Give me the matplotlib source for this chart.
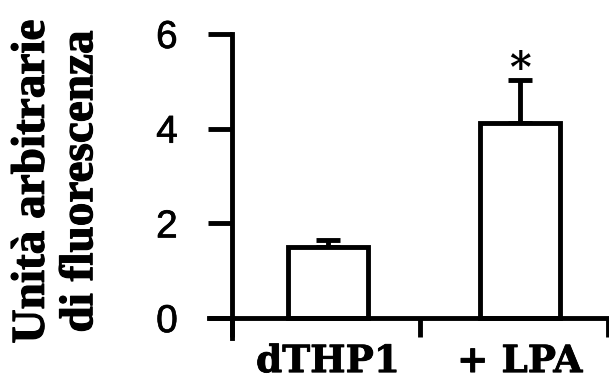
import matplotlib
matplotlib.use("Agg")
import matplotlib.pyplot as plt
import matplotlib.patheffects as pe
from matplotlib.ticker import FixedLocator, FixedFormatter

# Data
categories = ["dTHP1", "+ LPA"]
values = [1.50, 4.13]
errors_up = [0.14, 0.90]
significance = ["", "*"]
y_ticks = [0, 2, 4, 6]
ylabel = "Unità arbitrarie\ndi fluorescenza"

W, H = 609, 379
fig = plt.figure(figsize=(W / 100, H / 100), dpi=100)
fig.patch.set_facecolor("white")

ax = fig.add_axes([209 / W, (H - 338) / H, 400 / W, (338 - 34) / H])
ax.set_xlim(-0.122, 2.005)
ax.set_ylim(-0.42, 6.0)

LW = 3.5
positions = [0.51, 1.53]
bar_w = 0.425
ax.bar(positions, values, width=bar_w, color="white", edgecolor="black",
       linewidth=LW, zorder=3)
ax.errorbar(positions, values, yerr=[[0] * len(errors_up), errors_up],
            fmt="none", ecolor="black", elinewidth=LW, capsize=8.5,
            capthick=LW, zorder=2)
for p, v, e, s in zip(positions, values, errors_up, significance):
    if s:
        ax.text(p, v + e + 0.22, s, ha="center", va="center", fontsize=30,
                fontweight="bold", family="DejaVu Serif", zorder=4)

for side in ["top", "right"]:
    ax.spines[side].set_visible(False)
ax.spines["left"].set_position(("data", 0))
ax.spines["bottom"].set_position(("data", 0))
for side in ["left", "bottom"]:
    ax.spines[side].set_linewidth(LW)
    ax.spines[side].set_zorder(5)

ax.yaxis.set_major_locator(FixedLocator(y_ticks))
ax.set_yticklabels([str(t) for t in y_ticks], family="Liberation Sans",
                   fontsize=28)
for lab in ax.get_yticklabels():
    lab.set_path_effects([pe.withStroke(linewidth=0.5, foreground="black")])
ax.tick_params(axis="y", direction="out", length=17, width=LW, pad=22)

ax.xaxis.set_major_locator(FixedLocator([0, 1, 2]))
ax.xaxis.set_major_formatter(FixedFormatter(["", "", ""]))
ax.tick_params(axis="x", which="major", direction="out", length=14,
               width=LW)
ax.xaxis.set_minor_locator(FixedLocator(positions))
ax.xaxis.set_minor_formatter(FixedFormatter(categories))
ax.tick_params(axis="x", which="minor", length=0, pad=18)
for lab in ax.xaxis.get_minorticklabels():
    lab.set_fontfamily("DejaVu Serif")
    lab.set_fontweight("bold")
    lab.set_fontsize(27)
    lab.set_path_effects([pe.withStroke(linewidth=0.6, foreground="black")])

fig.text(57 / W, 1 - 181.5 / H, ylabel, rotation=90, ha="center",
         va="center", multialignment="center", fontsize=34,
         fontweight="bold", family="Liberation Serif", linespacing=1.2,
         path_effects=[pe.withStroke(linewidth=0.8, foreground="black")])

fig.savefig("out.png", dpi=100, facecolor="white")
